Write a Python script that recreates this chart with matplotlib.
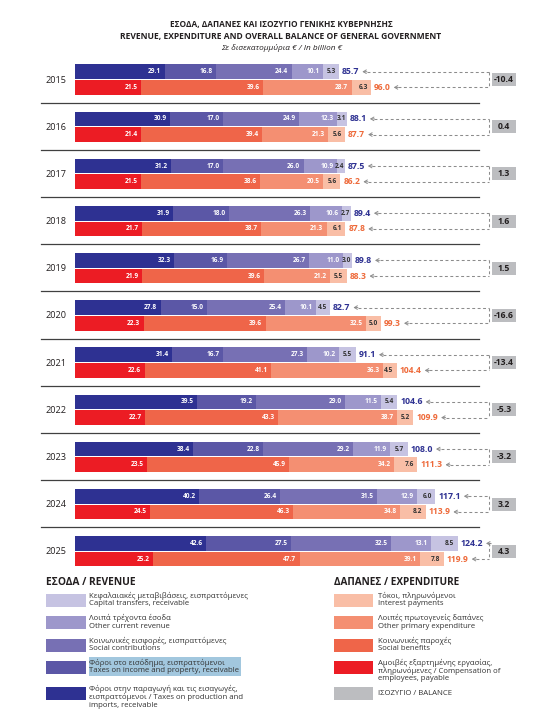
import matplotlib
matplotlib.use('Agg')
import matplotlib.pyplot as plt
from matplotlib import font_manager
from matplotlib.patches import Rectangle
import numpy as np

# ---------------- data ----------------
years = [2015, 2016, 2017, 2018, 2019, 2020, 2021, 2022, 2023, 2024, 2025]

rev_production = [29.1, 30.9, 31.2, 31.9, 32.3, 27.8, 31.4, 39.5, 38.4, 40.2, 42.6]
rev_income = [16.8, 17.0, 17.0, 18.0, 16.9, 15.0, 16.7, 19.2, 22.8, 26.4, 27.5]
rev_social = [24.4, 24.9, 26.0, 26.3, 26.7, 25.4, 27.3, 29.0, 29.2, 31.5, 32.5]
rev_other = [10.1, 12.3, 10.9, 10.6, 11.0, 10.1, 10.2, 11.5, 11.9, 12.9, 13.1]
rev_capital = [5.3, 3.1, 2.4, 2.7, 3.0, 4.5, 5.5, 5.4, 5.7, 6.0, 8.5]
rev_total = [85.7, 88.1, 87.5, 89.4, 89.8, 82.7, 91.1, 104.6, 108.0, 117.1, 124.2]

exp_compensation = [21.5, 21.4, 21.5, 21.7, 21.9, 22.3, 22.6, 22.7, 23.5, 24.5, 25.2]
exp_social = [39.6, 39.4, 38.6, 38.7, 39.6, 39.6, 41.1, 43.3, 45.9, 46.3, 47.7]
exp_other = [28.7, 21.3, 20.5, 21.3, 21.2, 32.5, 36.3, 38.7, 34.2, 34.8, 39.1]
exp_interest = [6.3, 5.6, 5.6, 6.1, 5.5, 5.0, 4.5, 5.2, 7.6, 8.2, 7.8]
exp_total = [96.0, 87.7, 86.2, 87.8, 88.3, 99.3, 104.4, 109.9, 111.3, 113.9, 119.9]

balance = [-10.4, 0.4, 1.3, 1.6, 1.5, -16.6, -13.4, -5.3, -3.2, 3.2, 4.3]

title1 = 'ΕΣΟΔΑ, ΔΑΠΑΝΕΣ ΚΑΙ ΙΣΟΖΥΓΙΟ ΓΕΝΙΚΗΣ ΚΥΒΕΡΝΗΣΗΣ'
title2 = 'REVENUE, EXPENDITURE AND OVERALL BALANCE OF GENERAL GOVERNMENT'
subtitle = 'Σε δισεκατομμύρια € / In billion €'

rev_colors = ['#2E3192', '#5B57A6', '#7770B4', '#9D97CB', '#C6C3E2']
exp_colors = ['#EC1C24', '#EF6549', '#F48F72', '#F9BEA6']
rev_label_colors = ['white', 'white', 'white', 'white', '#333333']
exp_label_colors = ['white', 'white', 'white', '#333333']
BAL_COLOR = '#BCBDC0'
REV_TOT_COLOR = '#2E3192'
EXP_TOT_COLOR = '#EE6A3A'

rev_legend = [
    ['Κεφαλαιακές μεταβιβάσεις, εισπραττόμενες', 'Capital transfers, receivable'],
    ['Λοιπά τρέχοντα έσοδα', 'Other current revenue'],
    ['Κοινωνικές εισφορές, εισπραττόμενες', 'Social contributions'],
    ['Φόροι στο εισόδημα, εισπραττόμενοι', 'Taxes on income and property, receivable'],
    ['Φόροι στην παραγωγή και τις εισαγωγές,', 'εισπραττόμενοι / Taxes on production and',
     'imports, receivable'],
]
exp_legend = [
    ['Τόκοι, πληρωνόμενοι', 'Interest payments'],
    ['Λοιπές πρωτογενείς δαπάνες', 'Other primary expenditure'],
    ['Κοινωνικές παροχές', 'Social benefits'],
    ['Αμοιβές εξαρτημένης εργασίας,', 'πληρωνόμενες / Compensation of', 'employees, payable'],
    ['ΙΣΟΖΥΓΙΟ / BALANCE'],
]

# ---------------- fonts ----------------
names = {f.name for f in font_manager.fontManager.ttflist}
BASE = 'Open Sans' if 'Open Sans' in names else 'DejaVu Sans'
NARROW = 'Liberation Sans Narrow' if 'Liberation Sans Narrow' in names else BASE
FAM = [BASE, 'DejaVu Sans']
NFAM = [NARROW, BASE, 'DejaVu Sans']
plt.rcParams['font.family'] = FAM

W, H = 548, 712
fig = plt.figure(figsize=(W / 100, H / 100), dpi=100)
renderer = fig.canvas.get_renderer()


def fit(s, target, family, weight='normal', style='normal'):
    t = fig.text(0, 0, s, fontsize=10, family=family, weight=weight, style=style)
    w = t.get_window_extent(renderer).width
    t.remove()
    return 10 * target / w


X0, SC = 75.0, 3.08  # bar origin (px) and px per billion


def px2x(px):
    return (px - X0) / SC


ax = fig.add_axes([0, 0, 1, 1])
ax.set_xlim(px2x(0), px2x(W))
ax.set_ylim(H, 0)
ax.axis('off')
lax = fig.add_axes([0, 0, 1, 1], facecolor='none')
lax.set_xlim(0, W)
lax.set_ylim(H, 0)
lax.axis('off')

n = len(years)
y_rev = 71.7 + np.arange(n) * 47.17
y_exp = y_rev + 15.7
BH = 14.7

fs_val = fit('29.1', 13, NFAM, 'bold')
fs_rtot = fit('85.7', 17.5, NFAM, 'bold')
fs_etot = fit('96.0', 17, NFAM, 'bold')
fs_year = fit('2015', 21, FAM)
fs_bal = fit('-10.4', 20, FAM, 'bold')

rev_series = [rev_production, rev_income, rev_social, rev_other, rev_capital]
exp_series = [exp_compensation, exp_social, exp_other, exp_interest]


def stack(series, ys, colors, lcolors):
    left = np.zeros(n)
    last = len(series) - 1
    for k, (vals, c, lc) in enumerate(zip(series, colors, lcolors)):
        vals = np.array(vals)
        ax.barh(ys, vals, left=left, height=BH, color=c, linewidth=0)
        for i in range(n):
            pad = 0.7 if (k == last and vals[i] < 4) else 3.3
            ax.text(left[i] + vals[i] - pad / SC, ys[i], f'{vals[i]:.1f}', ha='right',
                    va='center', color=lc, fontsize=fs_val, fontweight='bold',
                    family=NFAM)
        left = left + vals
    return left


rev_end = stack(rev_series, y_rev, rev_colors, rev_label_colors)
exp_end = stack(exp_series, y_exp, exp_colors, exp_label_colors)

XC = 489.0  # connector x (px)
DASH = (0, (2.8, 2.4))
GREY = '#8C8C8C'


def total_and_arrow(end, y, tot, color, fs):
    t = ax.text(end + 3 / SC, y, f'{tot:.1f}', ha='left', va='center', color=color,
                fontsize=fs, fontweight='bold', family=NFAM)
    bb = t.get_window_extent(renderer)
    start = bb.x1 + 3
    ax.annotate('', xy=(px2x(start), y), xytext=(px2x(start + 4.5), y),
                arrowprops=dict(arrowstyle='->,head_length=0.22,head_width=0.13',
                                color=GREY, lw=0.7, shrinkA=0, shrinkB=0))
    ax.plot([px2x(start + 4.5), px2x(XC)], [y, y], ls=DASH, color=GREY, lw=0.75)


for i in range(n):
    total_and_arrow(rev_end[i], y_rev[i], rev_total[i], REV_TOT_COLOR, fs_rtot)
    total_and_arrow(exp_end[i], y_exp[i], exp_total[i], EXP_TOT_COLOR, fs_etot)
    ax.plot([px2x(XC), px2x(XC)], [y_rev[i], y_exp[i]], ls=DASH, color=GREY, lw=0.75)
    yc = (y_rev[i] + y_exp[i]) / 2
    lax.add_patch(Rectangle((492, yc - 6.5), 24, 13, color=BAL_COLOR, lw=0))
    lax.text(504, yc, f'{balance[i]:.1f}', ha='center', va='center', fontsize=fs_bal,
             fontweight='bold', color='#231F20')
    ax.text(px2x(56), yc + 0.5, str(years[i]), ha='center', va='center',
            fontsize=fs_year, color='#231F20')
    if i < n - 1:
        lax.plot([41, 479], [y_rev[i] + 31] * 2, color='#404040', lw=0.9)

# ---------------- titles ----------------
lax.text(281, 25, title1, ha='center', va='center', fontweight='bold', color='#231F20',
         fontsize=fit(title1, 222, FAM, 'bold'))
lax.text(281, 36.5, title2, ha='center', va='center', fontweight='bold', color='#231F20',
         fontsize=fit(title2, 322, FAM, 'bold'))
lax.text(282, 47.5, subtitle, ha='center', va='center', style='italic', color='#231F20',
         fontsize=fit(subtitle, 121, FAM, 'normal', 'italic'))

# ---------------- legend ----------------
h1 = 'ΕΣΟΔΑ / REVENUE'
h2 = 'ΔΑΠΑΝΕΣ / EXPENDITURE'
lax.text(46, 582.5, h1, ha='left', va='center', fontweight='bold', color='#231F20',
         fontsize=fit(h1, 90, FAM, 'bold'))
lax.text(334, 582.5, h2, ha='left', va='center', fontweight='bold', color='#231F20',
         fontsize=fit(h2, 125, FAM, 'bold'))

sw_tops = [594, 616.3, 639, 661, 687.3]
fs_leg = fit('Capital transfers, receivable', 100.7, FAM)
LEG_TXT = '#333333'

# highlight behind the income-tax legend text
lax.add_patch(Rectangle((89, 657), 152, 18.7, color='#A2C7DE', lw=0))

for k, (lines, c) in enumerate(zip(rev_legend, rev_colors[::-1])):
    lax.add_patch(Rectangle((46, sw_tops[k]), 39.7, 12.7, color=c, lw=0))
    for j, s in enumerate(lines):
        lax.text(89.3, sw_tops[k] + 2 + j * 7.9, s, ha='left', va='center',
                 fontsize=fs_leg, color=LEG_TXT)

exp_sw_colors = exp_colors[::-1] + [BAL_COLOR]
for k, (lines, c) in enumerate(zip(exp_legend, exp_sw_colors)):
    lax.add_patch(Rectangle((334, sw_tops[k]), 39, 12.7, color=c, lw=0))
    y0 = sw_tops[k] + 2 if len(lines) > 1 else sw_tops[k] + 6
    for j, s in enumerate(lines):
        lax.text(378.3, y0 + j * 7.9, s, ha='left', va='center',
                 fontsize=fs_leg, color=LEG_TXT)

fig.savefig('out.png', dpi=100)
